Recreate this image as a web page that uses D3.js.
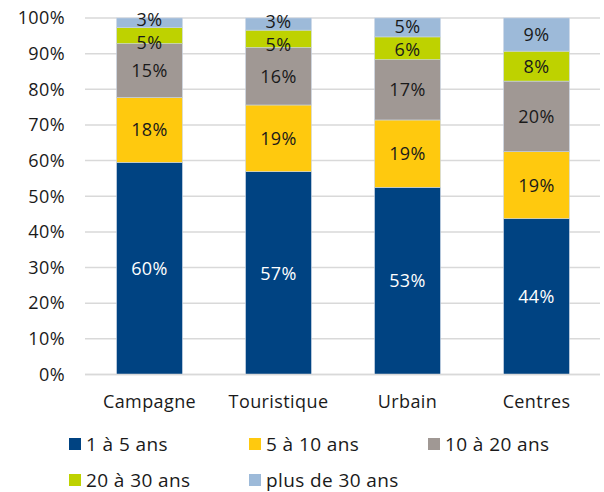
<!DOCTYPE html>
<html><head><meta charset="utf-8">
<script src="https://cdn.jsdelivr.net/npm/d3@7"></script>
<style>body{margin:0;background:#fff;} text{font-family:"Open Sans","Noto Sans",sans-serif;letter-spacing:0.4px;}</style>
</head><body>
<svg id="c" width="604" height="492"></svg>
<script>
const categories = ["Campagne","Touristique","Urbain","Centres"];
const seriesNames = ["1 à 5 ans","5 à 10 ans","10 à 20 ans","20 à 30 ans","plus de 30 ans"];
const s1 = [59.5, 56.9, 52.5, 43.7];
const s2 = [18.2, 18.7, 18.9, 18.8];
const s3 = [15.1, 16.1, 16.9, 19.8];
const s4 = [4.5, 4.9, 6.4, 8.4];
const s5 = [2.7, 3.4, 5.3, 9.3];
const colors = ["#004382","#ffc90e","#a09894","#bed200","#9dbad9"];
const labelColors = ["#ffffff","#1a1a1a","#1a1a1a","#1a1a1a","#1a1a1a"];
const yTicks = [0,10,20,30,40,50,60,70,80,90,100];

const series = [s1,s2,s3,s4,s5];
const data = categories.map((c,i)=>{const o={cat:c}; seriesNames.forEach((n,j)=>o[n]=series[j][i]); return o;});
const stack = d3.stack().keys(seriesNames)(data);

const svg = d3.select("#c");
const x = d3.scaleBand().domain(categories).range([85,601]).paddingInner(0.49).paddingOuter(0.245);
const y = d3.scaleLinear().domain([0,100]).range([374.5,18]);
const FS = 18;

svg.append("g").selectAll("line").data(yTicks).join("line")
  .attr("x1",85).attr("x2",600).attr("y1",d=>y(d)).attr("y2",d=>y(d))
  .attr("stroke","#d9d9d9").attr("stroke-width",1.5);

const yAxis = d3.axisLeft(y).tickValues(yTicks).tickFormat(d=>d+"%").tickSize(0).tickPadding(0);
const ga = svg.append("g").attr("transform","translate(65,0)").call(yAxis);
ga.select(".domain").remove();
ga.selectAll("text").attr("font-size",FS).attr("fill","#1a1a1a").attr("font-family","'Open Sans',sans-serif");

// label positions with simple de-overlap between adjacent small segments
const labelY = stack.map(layer=>layer.map(d=>(y(d[0])+y(d[1]))/2));
categories.forEach((c,i)=>{
  for(let j=stack.length-1;j>0;j--){
    const gap = labelY[j-1][i]-labelY[j][i];
    const minGap = 23;
    if(gap<minGap){
      const def = minGap-gap;
      labelY[j][i] -= def*0.3;
      labelY[j-1][i] += def*0.7;
    }
  }
});

stack.forEach((layer,j)=>{
  const g = svg.append("g");
  g.selectAll("rect").data(layer).join("rect")
    .attr("x",d=>x(d.data.cat)).attr("width",x.bandwidth())
    .attr("y",d=>y(d[1])).attr("height",d=>y(d[0])-y(d[1]))
    .attr("fill",colors[j]).attr("stroke","#c8d4e4").attr("stroke-width",0.6);
  g.selectAll("text").data(layer).join("text")
    .attr("x",d=>x(d.data.cat)+x.bandwidth()/2)
    .attr("y",(d,i)=>labelY[j][i])
    .attr("dy","0.36em").attr("text-anchor","middle")
    .attr("font-size",FS).attr("fill",labelColors[j])
    .text(d=>Math.round(d[1]-d[0])+"%");
});

svg.append("line").attr("x1",85).attr("x2",600).attr("y1",y(0)).attr("y2",y(0)).attr("stroke","#d9d9d9").attr("stroke-width",1.5);

const xAxis = d3.axisBottom(x).tickSize(0).tickPadding(0);
const gx = svg.append("g").attr("transform","translate(0,395)").call(xAxis);
gx.select(".domain").remove();
gx.selectAll("text").attr("font-size",FS).attr("fill","#1a1a1a").attr("dy","0.71em").attr("y",0).attr("font-family","'Open Sans',sans-serif");

const legPos = [[69,444],[249,444],[428,444],[69,480],[249,480]];
const lg = svg.append("g").selectAll("g").data(seriesNames).join("g")
  .attr("transform",(d,i)=>`translate(${legPos[i][0]},${legPos[i][1]})`);
lg.append("rect").attr("x",0).attr("y",-6).attr("width",12).attr("height",12).attr("fill",(d,i)=>colors[i]);
lg.append("text").attr("x",17).attr("y",0).attr("dy","0.36em").attr("font-size",FS+1).attr("fill","#1a1a1a").text(d=>d);
</script>
</body></html>
